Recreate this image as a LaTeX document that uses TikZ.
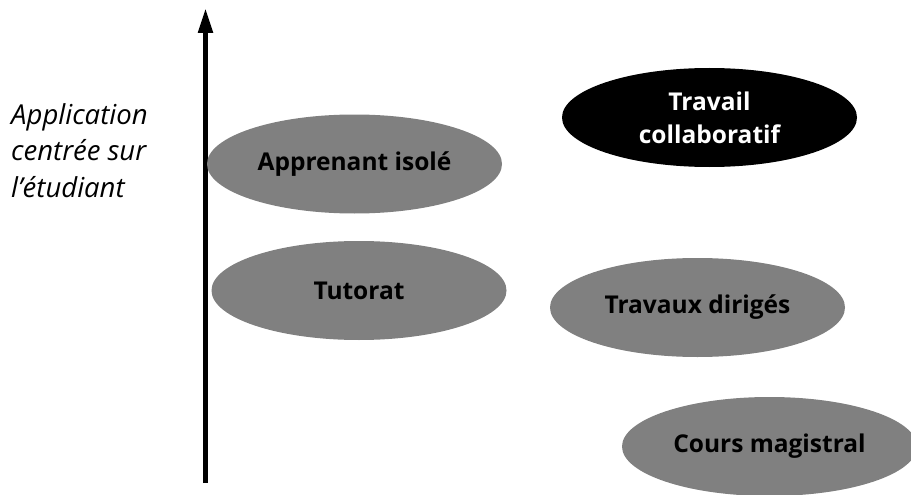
\documentclass[tikz,border=0pt]{standalone}
\usepackage{fontspec}
\setmainfont{Open Sans}
\usetikzlibrary{shapes.geometric,arrows.meta}
\definecolor{ellgrey}{HTML}{808080}
\begin{document}
\begin{tikzpicture}[x=1pt,y=-1pt,
  ell/.style={ellipse,fill=ellgrey,inner sep=0pt,minimum width=295pt,minimum height=99pt,
    font=\fontsize{24.5}{33}\selectfont\bfseries,align=center},
  darkell/.style={ell,fill=black,text=white}]
\useasboundingbox (0,0) rectangle (911,495);
\coordinate (bot) at (205.5,483);
\coordinate (top) at (205.5,8);
\draw[line width=5pt,-{Triangle[length=25pt,width=14pt]}] (bot) -- (top);
\node[ell] (iso) at (354.5,164) {Apprenant isolé};
\node[ell] (tut) at (359,290.5) {Tutorat};
\node[darkell] (col) at (709.5,117.5) {Travail\\collaboratif};
\node[ell] (td) at (697.5,307.5) {Travaux dirigés};
\node[ell] (cm) at (769.5,446.5) {Cours magistral};
\node[anchor=base west,align=left,inner sep=0pt,font=\fontsize{27.5}{36.5}\selectfont\itshape] (lab) at (11,197) {Application\\centrée sur\\l’étudiant};
\end{tikzpicture}
\end{document}
